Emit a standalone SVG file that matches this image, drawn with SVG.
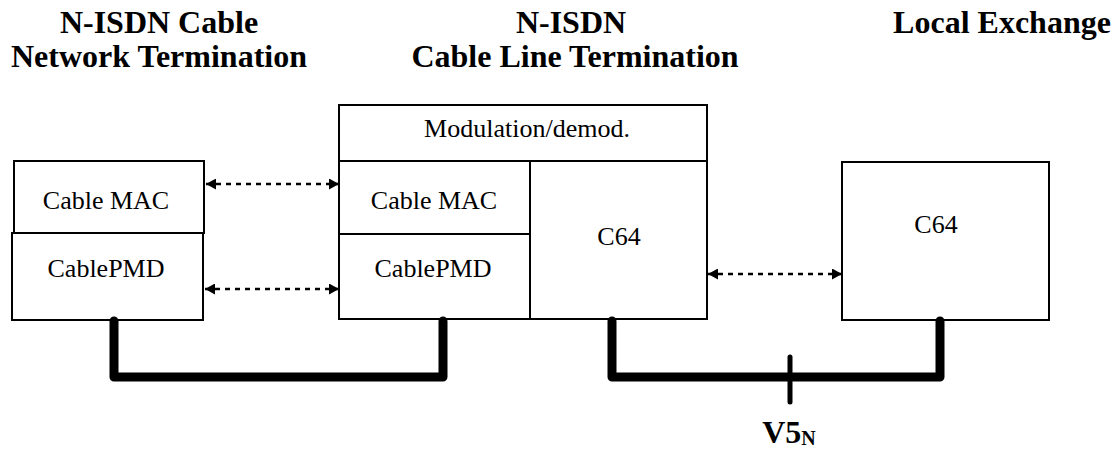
<svg xmlns="http://www.w3.org/2000/svg" width="1117" height="451" viewBox="0 0 1117 451">
<style>
.box{fill:#fff;stroke:#000;stroke-width:2}
.ln{stroke:#000;stroke-width:2;fill:none}
.hd{font-family:"Liberation Serif",serif;font-weight:bold;font-size:32px;text-anchor:middle;fill:#000}
.lb{font-family:"Liberation Serif",serif;font-size:26px;text-anchor:middle;fill:#000}
.dash{stroke:#000;stroke-width:2.5;stroke-dasharray:5 5;fill:none;marker-start:url(#ah);marker-end:url(#ah)}
.thick{stroke:#000;stroke-width:9;fill:none;stroke-linecap:round;stroke-linejoin:round}
</style>
<defs>
<marker id="ah" viewBox="0 0 10 10" refX="10" refY="5" markerWidth="10" markerHeight="11" markerUnits="userSpaceOnUse" orient="auto-start-reverse" preserveAspectRatio="none">
<path d="M0,0 L10,5 L0,10 Z" fill="#000"/>
</marker>
</defs>
<g id="headers">
<text class="hd" x="159" y="33">N-ISDN Cable</text>
<text class="hd" x="159" y="67">Network Termination</text>
<text class="hd" x="571" y="33">N-ISDN</text>
<text class="hd" x="575" y="67">Cable Line Termination</text>
<text class="hd" x="1002" y="33">Local Exchange</text>
</g>
<g id="nt-mac">
<rect class="box" x="14" y="161" width="190" height="72"/>
<text class="lb" x="106" y="209">Cable MAC</text>
</g>
<g id="nt-pmd">
<rect class="box" x="12" y="233" width="191" height="87"/>
<text class="lb" x="106" y="277">CablePMD</text>
</g>
<g id="lt">
<rect class="box" x="339" y="105" width="368" height="214"/>
<line class="ln" x1="339" y1="161" x2="707" y2="161"/>
<line class="ln" x1="530" y1="161" x2="530" y2="319"/>
<line class="ln" x1="339" y1="234" x2="530" y2="234"/>
<text class="lb" x="527" y="137">Modulation/demod.</text>
<text class="lb" x="434" y="209">Cable MAC</text>
<text class="lb" x="433" y="277">CablePMD</text>
<text class="lb" x="619" y="245">C64</text>
</g>
<g id="le">
<rect class="box" x="842" y="162" width="207" height="158"/>
<text class="lb" x="936" y="233">C64</text>
</g>
<g id="connectors">
<line class="dash" x1="206" y1="184" x2="339" y2="184"/>
<line class="dash" x1="205" y1="289" x2="339" y2="289"/>
<line class="dash" x1="708" y1="274" x2="842" y2="274"/>
<path class="thick" d="M114,321 V377 H443 V321"/>
<path class="thick" d="M612,321 V377 H940 V321"/>
<line x1="790" y1="357" x2="790" y2="402" stroke="#000" stroke-width="5" stroke-linecap="round"/>
</g>
<g id="v5">
<text x="789" y="443" style="font-family:'Liberation Serif',serif;font-weight:bold;font-size:32px;fill:#000" text-anchor="middle">V5<tspan font-size="20" dy="2">N</tspan></text>
</g>
</svg>
